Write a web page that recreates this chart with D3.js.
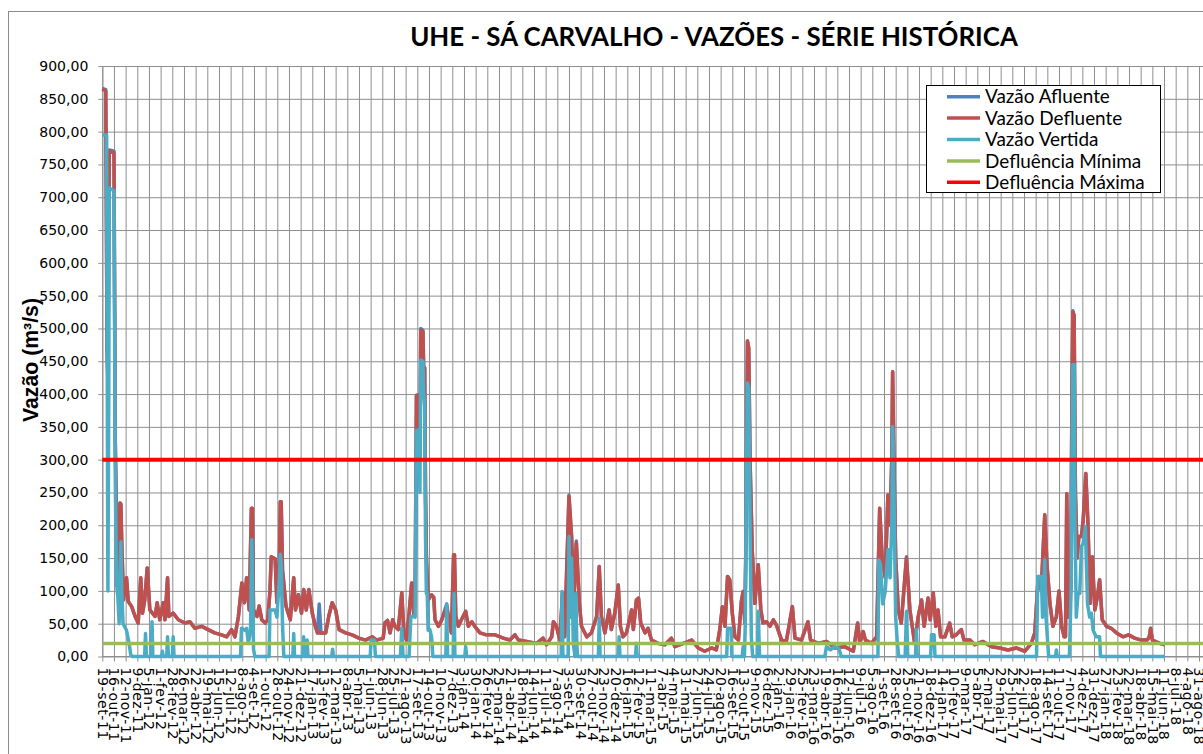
<!DOCTYPE html>
<html>
<head>
<meta charset="utf-8">
<script src="https://cdn.jsdelivr.net/npm/d3@7"></script>
<style>
  body { margin: 0; background: #fff; }
  svg { display: block; }
</style>
</head>
<body>
<div id="grafico"></div>
<script>
// rótulos do eixo X: um a cada 27 dias a partir de 19-set-11
var rotulosX = ['19-set-11', '16-out-11', '12-nov-11', '9-dez-11', '5-jan-12', '1-fev-12', '28-fev-12',
  '26-mar-12', '22-abr-12', '19-mai-12', '15-jun-12', '12-jul-12', '8-ago-12', '4-set-12', '1-out-12',
  '28-out-12', '24-nov-12', '21-dez-12', '17-jan-13', '13-fev-13', '12-mar-13', '8-abr-13', '5-mai-13',
  '1-jun-13', '28-jun-13', '25-jul-13', '21-ago-13', '17-set-13', '14-out-13', '10-nov-13', '7-dez-13',
  '3-jan-14', '30-jan-14', '26-fev-14', '25-mar-14', '21-abr-14', '18-mai-14', '14-jun-14', '11-jul-14',
  '7-ago-14', '3-set-14', '30-set-14', '27-out-14', '23-nov-14', '20-dez-14', '16-jan-15', '12-fev-15',
  '11-mar-15', '7-abr-15', '4-mai-15', '31-mai-15', '27-jun-15', '24-jul-15', '20-ago-15', '16-set-15',
  '13-out-15', '9-nov-15', '6-dez-15', '2-jan-16', '29-jan-16', '25-fev-16', '23-mar-16', '19-abr-16',
  '16-mai-16', '12-jun-16', '9-jul-16', '5-ago-16', '1-set-16', '28-set-16', '25-out-16', '21-nov-16',
  '18-dez-16', '14-jan-17', '10-fev-17', '9-mar-17', '5-abr-17', '2-mai-17', '29-mai-17', '25-jun-17',
  '22-jul-17', '18-ago-17', '14-set-17', '11-out-17', '7-nov-17', '4-dez-17', '31-dez-17', '27-jan-18',
  '23-fev-18', '22-mar-18', '18-abr-18', '15-mai-18', '11-jun-18', '8-jul-18', '4-ago-18', '31-ago-18'];
var passoRotulo = 27;

var ticksY = d3.range(0, 901, 50);

// dias contados a partir de 19-set-11 (afluente e defluente)
var diasQ = [
  0, 8, 11, 13, 16, 27, 30, 33, 36, 39,
  41, 43, 45, 49, 56, 60, 68, 76, 83, 89,
  93, 98, 104, 110, 122, 127, 133, 141, 145, 151,
  154, 164, 176, 191, 203, 214, 230, 245, 260, 276,
  288, 299, 307, 315, 323, 329, 334, 340, 345, 347,
  350, 358, 363, 369, 377, 383, 388, 391, 400, 404,
  410, 412, 414, 417, 425, 435, 443, 447, 454, 461,
  466, 472, 478, 486, 493, 498, 502, 506, 517, 524,
  532, 540, 548, 563, 578, 594, 609, 625, 635, 650,
  654, 660, 666, 672, 677, 685, 693, 698, 704, 710,
  716, 721, 724, 727, 733, 735, 737, 742, 744, 746,
  748, 750, 754, 762, 767, 770, 778, 785, 797, 801,
  808, 813, 815, 818, 824, 831, 841, 847, 855, 862,
  874, 889, 909, 928, 943, 955, 963, 982, 1005, 1020,
  1028, 1040, 1044, 1051, 1059, 1065, 1070, 1080, 1086, 1091,
  1097, 1104, 1109, 1121, 1132, 1144, 1150, 1155, 1163, 1173,
  1178, 1186, 1194, 1199, 1205, 1213, 1225, 1229, 1236, 1241,
  1246, 1256, 1263, 1271, 1286, 1302, 1317, 1325, 1345, 1364,
  1379, 1394, 1410, 1421, 1429, 1435, 1441, 1447, 1452, 1458,
  1464, 1472, 1479, 1483, 1487, 1490, 1493, 1496, 1499, 1504,
  1510, 1518, 1524, 1529, 1537, 1545, 1553, 1560, 1572, 1583,
  1597, 1603, 1618, 1633, 1639, 1657, 1676, 1695, 1718, 1738,
  1748, 1753, 1761, 1766, 1780, 1792, 1799, 1805, 1812, 1818,
  1823, 1827, 1829, 1832, 1836, 1842, 1849, 1861, 1869, 1880,
  1888, 1896, 1902, 1911, 1916, 1923, 1929, 1934, 1940, 1950,
  1961, 1967, 1976, 1988, 1994, 2008, 2019, 2038, 2058, 2077,
  2096, 2115, 2135, 2150, 2158, 2166, 2173, 2181, 2186, 2193,
  2200, 2208, 2214, 2220, 2226, 2229, 2232, 2235, 2241, 2244,
  2246, 2249, 2252, 2256, 2260, 2266, 2270, 2276, 2281, 2286,
  2291, 2297, 2303, 2308, 2314, 2324, 2335, 2347, 2362, 2375,
  2389, 2405, 2418, 2423, 2426, 2430, 2447, 2459];

var defluente = [
  865, 862, 470, 420, 770, 768, 330, 200, 95, 120,
  234, 232, 175, 86, 120, 84, 76, 61, 51, 120,
  66, 85, 135, 71, 61, 82, 56, 82, 56, 120,
  61, 66, 56, 51, 53, 43, 46, 41, 36, 33,
  30, 41, 30, 61, 112, 82, 120, 71, 226, 226,
  71, 61, 77, 56, 51, 56, 100, 152, 149, 82,
  150, 236, 236, 132, 77, 56, 120, 71, 94, 66,
  102, 71, 102, 66, 46, 36, 36, 36, 36, 61,
  82, 71, 41, 36, 33, 28, 25, 30, 25, 28,
  51, 55, 36, 56, 46, 41, 97, 36, 25, 66,
  112, 61, 100, 398, 398, 300, 497, 495, 430, 440,
  250, 152, 86, 94, 90, 56, 46, 55, 76, 60,
  36, 155, 155, 61, 46, 56, 69, 46, 53, 46,
  36, 33, 33, 28, 25, 33, 25, 23, 20, 28,
  18, 30, 53, 46, 25, 97, 30, 244, 183, 81,
  173, 81, 46, 30, 36, 61, 137, 61, 36, 71,
  41, 66, 109, 46, 30, 36, 71, 41, 86, 89,
  51, 36, 43, 25, 20, 18, 28, 15, 20, 25,
  13, 8, 13, 10, 41, 76, 46, 122, 117, 66,
  30, 25, 84, 99, 51, 200, 481, 470, 300, 163,
  81, 140, 71, 51, 53, 46, 56, 48, 25, 23,
  76, 28, 25, 53, 25, 20, 23, 13, 15, 8,
  51, 20, 38, 25, 20, 30, 226, 147, 120, 246,
  200, 300, 434, 300, 150, 71, 51, 150, 71, 20,
  60, 86, 46, 89, 56, 97, 46, 71, 30, 30,
  51, 30, 33, 41, 25, 25, 18, 23, 15, 13,
  10, 13, 8, 20, 36, 122, 102, 216, 142, 81,
  46, 61, 100, 46, 30, 30, 248, 60, 100, 400,
  525, 520, 250, 150, 183, 183, 208, 279, 203, 81,
  152, 71, 92, 117, 56, 46, 43, 36, 30, 33,
  28, 25, 25, 30, 43, 25, 20, 18];

var afluente = [
  866, 864, 470, 420, 772, 770, 330, 200, 95, 120,
  234, 232, 175, 86, 120, 84, 76, 61, 51, 120,
  66, 85, 135, 71, 61, 82, 56, 82, 56, 120,
  61, 66, 56, 51, 53, 43, 46, 41, 36, 33,
  30, 41, 30, 61, 112, 82, 120, 71, 226, 226,
  71, 61, 77, 56, 51, 56, 100, 152, 149, 82,
  150, 236, 236, 132, 77, 56, 120, 71, 94, 66,
  102, 71, 102, 66, 46, 36, 80, 36, 36, 61,
  82, 71, 41, 36, 33, 28, 25, 30, 25, 28,
  51, 55, 36, 56, 46, 41, 97, 36, 25, 66,
  112, 61, 100, 398, 398, 300, 500, 497, 430, 440,
  250, 152, 86, 94, 90, 56, 46, 55, 80, 60,
  36, 155, 155, 61, 46, 56, 69, 46, 53, 46,
  36, 33, 33, 28, 25, 33, 25, 23, 20, 28,
  18, 30, 53, 46, 25, 97, 30, 246, 183, 81,
  176, 81, 46, 30, 36, 61, 137, 61, 36, 71,
  41, 66, 109, 46, 30, 36, 71, 41, 86, 89,
  51, 36, 43, 25, 20, 18, 28, 15, 20, 25,
  13, 8, 13, 10, 41, 76, 46, 122, 117, 66,
  30, 25, 84, 99, 51, 200, 481, 470, 300, 163,
  81, 140, 71, 51, 53, 46, 56, 48, 25, 23,
  76, 28, 25, 53, 25, 20, 23, 13, 15, 8,
  51, 20, 38, 25, 20, 30, 226, 147, 120, 246,
  200, 300, 434, 300, 152, 71, 51, 152, 71, 20,
  60, 86, 46, 89, 56, 97, 46, 71, 30, 30,
  51, 30, 33, 41, 25, 25, 18, 23, 15, 13,
  10, 13, 8, 20, 36, 122, 102, 216, 142, 81,
  46, 61, 100, 46, 30, 30, 248, 60, 100, 400,
  527, 520, 250, 150, 183, 183, 208, 279, 203, 81,
  152, 71, 92, 117, 56, 46, 43, 36, 30, 33,
  28, 25, 25, 30, 43, 25, 20, 18];

// vazão vertida: [dia, m3/s]
var vertida = [
  [0, 795], [10, 795], [12, 300], [13, 100], [15, 400], [16, 714], [27, 710], [30, 280], [33, 110], [36, 91],
  [39, 50], [41, 120], [43, 175], [45, 100], [48, 50], [52, 45], [56, 40], [62, 20], [66, 2], [70, 0],
  [98, 0], [100, 35], [102, 0], [113, 0], [115, 53], [117, 0], [137, 0], [139, 8], [141, 0], [149, 0],
  [151, 30], [153, 0], [162, 0], [164, 30], [166, 0], [320, 0], [322, 43], [330, 40], [334, 43], [338, 20],
  [343, 40], [346, 178], [348, 100], [350, 11], [353, 0], [386, 0], [388, 71], [400, 71], [404, 60], [410, 120],
  [412, 156], [414, 140], [417, 50], [420, 0], [441, 0], [443, 35], [445, 0], [464, 0], [466, 30], [468, 0],
  [472, 0], [474, 25], [476, 0], [531, 0], [533, 11], [535, 0], [620, 0], [622, 25], [630, 25], [632, 0],
  [690, 0], [693, 43], [696, 0], [710, 0], [714, 61], [720, 61], [724, 60], [727, 345], [733, 345], [735, 250],
  [737, 452], [742, 450], [744, 400], [746, 380], [748, 180], [750, 96], [752, 96], [754, 40], [758, 41], [762, 30],
  [765, 0], [795, 0], [797, 79], [799, 0], [812, 0], [814, 96], [816, 0], [839, 0], [841, 15], [843, 0],
  [1062, 0], [1064, 99], [1066, 0], [1078, 0], [1080, 183], [1083, 60], [1086, 150], [1090, 20], [1094, 0], [1096, 96],
  [1098, 20], [1100, 0], [1148, 0], [1150, 58], [1152, 0], [1194, 0], [1196, 30], [1198, 0], [1234, 0], [1236, 20],
  [1238, 0], [1445, 0], [1447, 43], [1455, 43], [1457, 0], [1481, 0], [1483, 15], [1486, 0], [1488, 50], [1491, 300],
  [1493, 417], [1496, 410], [1499, 200], [1502, 30], [1505, 0], [1516, 0], [1518, 69], [1521, 0], [1672, 0], [1676, 15],
  [1685, 10], [1695, 15], [1705, 12], [1710, 0], [1795, 0], [1797, 147], [1801, 140], [1806, 80], [1812, 100], [1818, 163],
  [1823, 120], [1827, 200], [1829, 350], [1832, 250], [1836, 60], [1840, 20], [1843, 0], [1858, 0], [1861, 69], [1864, 0],
  [1882, 0], [1884, 41], [1886, 0], [1917, 0], [1919, 33], [1925, 33], [1927, 0], [2162, 0], [2165, 122], [2173, 122],
  [2176, 60], [2181, 147], [2184, 60], [2188, 20], [2190, 0], [2206, 0], [2208, 10], [2210, 0], [2238, 0], [2242, 100],
  [2244, 300], [2246, 445], [2249, 445], [2251, 200], [2254, 60], [2258, 96], [2262, 96], [2266, 168], [2270, 173], [2275, 198],
  [2280, 80], [2285, 60], [2289, 66], [2293, 40], [2300, 30], [2308, 30], [2310, 0], [2459, 0]];

var defluenciaMinima = 20;
var defluenciaMaxima = 300;

var legenda = [
  {nome: 'Vazão Afluente', cor: '#4F81BD'},
  {nome: 'Vazão Defluente', cor: '#C0504D'},
  {nome: 'Vazão Vertida', cor: '#4BACC6'},
  {nome: 'Defluência Mínima', cor: '#9BBB59'},
  {nome: 'Defluência Máxima', cor: '#FF0000'}
];

var width = 1203,
  height = 754,
  plotLeft = 102.3,
  plotRight = 1199,
  plotTop = 66,
  plotBottom = 656.5,
  plotEnd = 1215;

var x = d3.scaleLinear()
  .domain([0, passoRotulo * (rotulosX.length - 1)])
  .range([plotLeft, plotRight]);
var y = d3.scaleLinear().domain([0, 900]).range([plotBottom, plotTop]);

var svg = d3.select('#grafico').append('svg')
  .attr('width', width)
  .attr('height', height);

// moldura do gráfico
svg.append('rect')
  .attr('x', 8.5).attr('y', 11.5)
  .attr('width', 1300).attr('height', 900)
  .attr('fill', '#fff')
  .attr('stroke', '#8c8c8c');

function ajustarLargura(sel, largura) {
  var tam = parseFloat(sel.style('font-size'));
  var w = sel.node().getComputedTextLength();
  sel.style('font-size', (tam * largura / w) + 'px');
  return tam * largura / w;
}

// grade
var diasRotulo = rotulosX.map(function (r, i) { return i * passoRotulo; });

svg.append('g')
  .attr('transform', 'translate(0,' + plotBottom + ')')
  .call(d3.axisBottom(x).tickValues(diasRotulo).tickSize(-(plotBottom - plotTop)).tickFormat(''))
  .call(function (g) {
    g.select('.domain').remove();
    g.selectAll('line').attr('stroke', '#8f8f8f');
  });

svg.append('g')
  .attr('transform', 'translate(' + plotLeft + ',0)')
  .call(d3.axisLeft(y).tickValues(ticksY).tickSize(-(plotEnd - plotLeft)).tickFormat(''))
  .call(function (g) {
    g.select('.domain').remove();
    g.selectAll('line').attr('stroke', '#8f8f8f');
  });

// eixo Y
svg.append('g')
  .attr('transform', 'translate(' + plotLeft + ',0)')
  .call(d3.axisLeft(y).tickValues(ticksY).tickSizeInner(4).tickSizeOuter(0).tickPadding(10)
    .tickFormat(function (v) { return d3.format('.2f')(v).replace('.', ','); }))
  .call(function (g) {
    g.select('.domain').attr('stroke', '#8f8f8f');
    g.selectAll('line').attr('stroke', '#8f8f8f');
    g.selectAll('text')
      .attr('fill', '#000')
      .style('font-family', '"DejaVu Sans", sans-serif')
      .style('font-size', '14px');
  });

// eixo X
svg.append('g')
  .attr('transform', 'translate(0,' + plotBottom + ')')
  .call(d3.axisBottom(x).tickValues(diasRotulo).tickSizeInner(5).tickSizeOuter(0)
    .tickFormat(function (d, i) { return rotulosX[i]; }))
  .call(function (g) {
    g.select('.domain').attr('stroke', '#8f8f8f').attr('d', 'M' + plotLeft + ',0H' + plotEnd);
    g.selectAll('line').attr('stroke', '#8f8f8f');
    g.selectAll('text')
      .attr('fill', '#000')
      .attr('x', 11)
      .attr('y', 0)
      .attr('dy', '0.36em')
      .attr('transform', 'rotate(90)')
      .style('text-anchor', 'start')
      .style('font-family', '"DejaVu Sans", sans-serif')
      .style('font-size', '14px')
      .style('letter-spacing', '0.6px');
  });

// séries
var linha = d3.line()
  .x(function (p) { return x(p[0]); })
  .y(function (p) { return y(p[1]); });

var series = [
  {dados: d3.zip(diasQ, afluente), cor: '#4F81BD'},
  {dados: d3.zip(diasQ, defluente), cor: '#C0504D'},
  {dados: vertida, cor: '#4BACC6'}
];

svg.append('g').selectAll('path')
    .data(series)
  .enter().append('path')
    .attr('d', function (s) { return linha(s.dados); })
    .attr('fill', 'none')
    .attr('stroke', function (s) { return s.cor; })
    .attr('stroke-width', 3.5)
    .attr('stroke-linejoin', 'round');

// limites de defluência
svg.append('line')
  .attr('x1', plotLeft).attr('x2', plotEnd)
  .attr('y1', y(defluenciaMinima)).attr('y2', y(defluenciaMinima))
  .attr('stroke', '#9BBB59').attr('stroke-width', 3.5);
svg.append('line')
  .attr('x1', plotLeft).attr('x2', plotEnd)
  .attr('y1', y(defluenciaMaxima)).attr('y2', y(defluenciaMaxima))
  .attr('stroke', '#FF0000').attr('stroke-width', 4);

// título
var titulo = svg.append('text')
  .attr('x', 714).attr('y', 46)
  .attr('text-anchor', 'middle')
  .style('font-family', 'Lato, sans-serif')
  .style('font-weight', 'bold')
  .style('font-size', '28px')
  .text('UHE - SÁ CARVALHO - VAZÕES - SÉRIE HISTÓRICA');
ajustarLargura(titulo, 608);

var tituloY = svg.append('text')
  .attr('transform', 'translate(38,360) rotate(-90)')
  .attr('text-anchor', 'middle')
  .style('font-family', '"Liberation Sans", Arial, sans-serif')
  .style('font-weight', 'bold')
  .style('font-size', '21px')
  .text('Vazão (m³/s)');
ajustarLargura(tituloY, 124);

// legenda
var leg = svg.append('g').attr('transform', 'translate(926.5,85.5)');
leg.append('rect')
  .attr('width', 234).attr('height', 107)
  .attr('fill', '#fff').attr('stroke', '#000');

var itens = leg.selectAll('g')
    .data(legenda)
  .enter().append('g')
    .attr('transform', function (d, i) { return 'translate(0,' + (11.2 + i * 21.4) + ')'; });

itens.append('line')
  .attr('x1', 20.5).attr('x2', 53.5)
  .attr('stroke', function (d) { return d.cor; })
  .attr('stroke-width', 3.5);

var textos = itens.append('text')
  .attr('x', 58.5)
  .attr('dy', '0.35em')
  .style('font-family', 'Lato, sans-serif')
  .style('font-size', '18px')
  .text(function (d) { return d.nome; });
var tamLeg = ajustarLargura(d3.select(textos.nodes()[0]), 125);
textos.style('font-size', tamLeg + 'px');
</script>
</body>
</html>
